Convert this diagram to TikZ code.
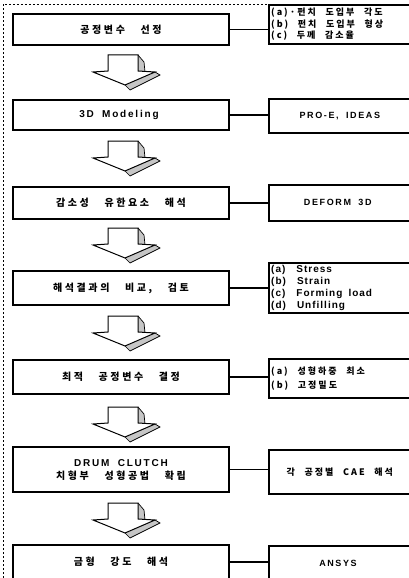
\documentclass[tikz,border=0pt]{standalone}
\usepackage{fontspec}
\setmainfont{Liberation Sans}[LetterSpace=18,WordSpace=1.8]
\newfontfamily\latr{Liberation Sans}[LetterSpace=10,WordSpace=1.6]
\newfontfamily\kr{Noto Sans CJK KR}[LetterSpace=26,WordSpace=3.2]
\newfontfamily\krs{Noto Sans CJK KR}[LetterSpace=22,WordSpace=2.4]
\begin{document}
\begin{tikzpicture}[x=1pt,y=-1pt,
  lbox/.style={draw, line width=1.6pt, minimum width=216pt, inner sep=0pt, font=\bfseries\fontsize{10}{12}\selectfont, align=center},
  rbox/.style={draw, line width=1.6pt, anchor=north west, minimum width=146pt, inner sep=0pt},
  rtext/.style={anchor=west, inner sep=0pt, align=left, font=\bfseries\fontsize{9}{11.5}\selectfont},
  ctext/.style={inner sep=0pt, align=center, font=\bfseries\fontsize{9}{11.5}\selectfont},
  link/.style={line width=1.8pt},
  downarrow/.pic={
    \fill[gray!45] (30,0)--(36,7)--(37,17)--(30,16)--cycle;
    \fill[gray!45] (47,17)--(52,20)--(22,35)--(17,30)--cycle;
    \draw[line width=0.7pt] (30,0)--(36,7)--(37,17);
    \draw[line width=0.7pt] (47,17)--(52,20)--(22,35)--(17,30);
    \draw[line width=1pt, line join=miter, fill=white] (0,0)--(30,0)--(30,16)--(47,17)--(17,30)--(-15,17)--(0,16)--cycle;
  }]
\useasboundingbox (0,0) rectangle (409,578);
% dashed frame
\draw[dashed, line width=0.5pt, dash pattern=on 2pt off 2pt] (3,578) -- (3,4) -- (409,4);

% row 1
\node[lbox, minimum height=31pt] (L1) at (121,29.5) {\kr 공정변수 선정};
\node[rbox, minimum height=39pt] (R1) at (268,4) {};
\node[rtext, font=\bfseries\krs\fontsize{9}{11.5}\selectfont] (R1t) at ([xshift=3pt]R1.west) {(a)·펀치 도입부 각도\\(b) 펀치 도입부 형상\\(c) 두께 감소율};
\draw[link] (L1.east) -- (L1.east -| R1.west);

% row 2
\node[lbox, minimum height=30pt] (L2) at (121,115) {3D Modeling\hspace{4pt}};
\node[rbox, minimum height=34pt] (R2) at (268,98) {};
\node[ctext] (R2t) at ([xshift=-2pt]R2.center) {PRO-E, IDEAS};
\draw[link] (L2.east) -- (L2.east -| R2.west);

% row 3
\node[lbox, minimum height=32pt] (L3) at (121,203) {\kr 감소성 유한요소 해석};
\node[rbox, minimum height=36pt] (R3) at (268,184) {};
\node[ctext] (R3t) at ([xshift=-4pt]R3.center) {DEFORM 3D};
\draw[link] (L3.east) -- (L3.east -| R3.west);

% row 4
\node[lbox, minimum height=34pt] (L4) at (121,288) {\kr 해석결과의 비교, 검토};
\node[rbox, minimum height=50pt] (R4) at (268,262) {};
\node[rtext, font=\bfseries\latr\fontsize{10}{12}\selectfont] (R4t) at ([xshift=3pt]R4.west)
  {(a)\hspace{5pt} Stress\\(b)\hspace{5pt} Strain\\(c)\hspace{5pt} Forming load\\(d)\hspace{5pt} Unfilling};
\draw[link] (L4.east) -- (L4.east -| R4.west);

% row 5
\node[lbox, minimum height=34pt] (L5) at (121,377) {\kr 최적 공정변수 결정};
\node[rbox, minimum height=39pt] (R5) at (268,358) {};
\node[rtext, font=\bfseries\krs\fontsize{9}{14}\selectfont] (R5t) at ([xshift=3pt]R5.west) {(a) 성형하중 최소\\(b) 고정밀도};
\draw[link] (L5.east) -- (L5.east -| R5.west);

% row 6
\node[lbox, minimum height=45pt] (L6) at (121,469.5) {DRUM CLUTCH\\[1pt]{\kr 치형부 성형공법 확립}};
\node[rbox, minimum height=44pt] (R6) at (268,449) {};
\node[ctext] (R6t) at ([xshift=-2pt]R6.center) {\krs 각 공정별 CAE 해석};
\draw[link] (L6.east) -- (L6.east -| R6.west);

% row 7
\node[lbox, minimum height=46pt] (L7) at (121,568) {};
\node[font=\bfseries\fontsize{10}{12}\selectfont] (T7) at (121,562) {\kr 금형 강도 해석};
\node[rbox, minimum height=46pt] (R7) at (268,545) {};
\node[ctext] (S7) at (338,563) {ANSYS};
\draw[link] (T7 -| L7.east) -- (T7 -| R7.west);

% arrows
\pic at (108,55) {downarrow};
\pic at (108,141) {downarrow};
\pic at (108,228) {downarrow};
\pic at (108,316) {downarrow};
\pic at (108,407) {downarrow};
\pic at (108,503) {downarrow};
\end{tikzpicture}
\end{document}
